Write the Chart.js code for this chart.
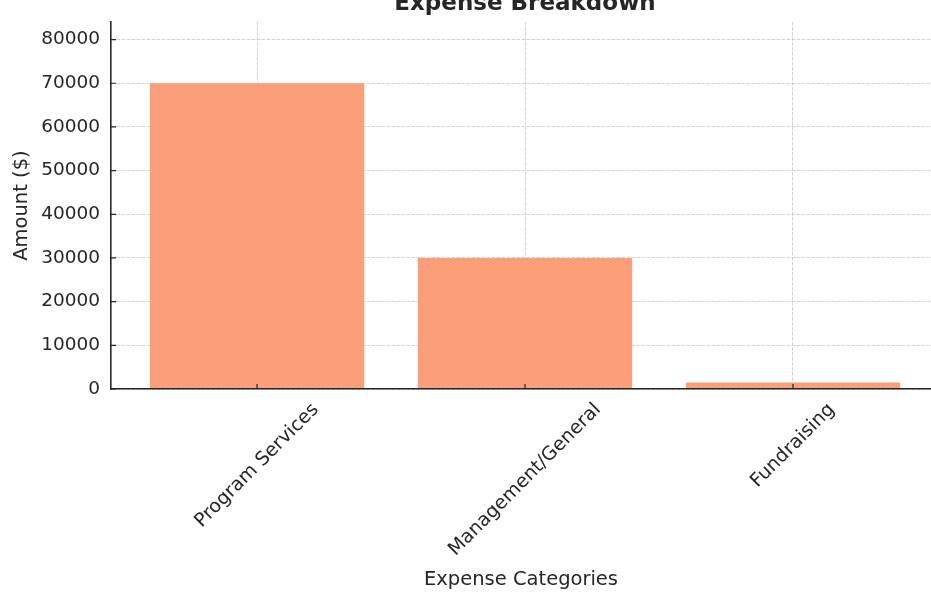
<!DOCTYPE html>
<html>
<head>
<meta charset="utf-8">
<title>Expense Breakdown</title>
<script src="https://cdn.jsdelivr.net/npm/chart.js@4.4.1/dist/chart.umd.min.js"></script>
<style>
  html, body { margin: 0; padding: 0; background: #fff; }
  #wrap { width: 931px; height: 592px; position: relative; }
</style>
</head>
<body>
<div id="wrap"><canvas id="chart-expenses"></canvas></div>
<script>
/* Expense Breakdown — barras verticales */

const chartTitle  = 'Expense Breakdown';
const xTitle      = 'Expense Categories';
const yTitle      = 'Amount ($)';
const categories  = ['Program Services', 'Management/General', 'Fundraising'];
const amounts     = [70000, 30000, 1500];
const yTicks      = [0, 10000, 20000, 30000, 40000, 50000, 60000, 70000, 80000];

const INK  = '#262626';
const GRID = '#cccccc';

// ── Etiquetas rotadas, título y marcas hacia dentro ──────────────
const extrasPlugin = {
  id: 'extras',
  afterDraw(chart) {
    const { ctx, chartArea: area, scales: { x, y } } = chart;
    ctx.save();
    ctx.fillStyle = INK;

    // etiquetas de categoría, centradas en su marca (45°)
    const size = 19;
    ctx.font = `${size}px 'DejaVu Sans', sans-serif`;
    ctx.textAlign = 'center';
    ctx.textBaseline = 'middle';
    categories.forEach((label, i) => {
      const w = ctx.measureText(label).width;
      const half = (w + size * 1.16) / (2 * Math.SQRT2);
      ctx.save();
      ctx.translate(x.getPixelForValue(i), area.bottom + 10 + half);
      ctx.rotate(-Math.PI / 4);
      ctx.fillText(label, 0, 0);
      ctx.restore();
    });

    // título (recortado arriba como en el original)
    ctx.font = `bold 23px 'DejaVu Sans', sans-serif`;
    ctx.textBaseline = 'alphabetic';
    ctx.fillText(chartTitle, x.getPixelForValue(1), 10);

    // marcas hacia dentro
    ctx.strokeStyle = INK;
    ctx.lineWidth = 1.2;
    ctx.beginPath();
    yTicks.forEach(v => {
      const py = y.getPixelForValue(v);
      ctx.moveTo(area.left, py);
      ctx.lineTo(area.left + 5, py);
    });
    categories.forEach((_, i) => {
      const px = x.getPixelForValue(i);
      ctx.moveTo(px, area.bottom);
      ctx.lineTo(px, area.bottom - 5);
    });
    ctx.stroke();
    ctx.restore();
  },
};

function initChart() {
  Chart.defaults.font.family = "'DejaVu Sans', sans-serif";
  Chart.defaults.color = INK;

  const ctx = document.getElementById('chart-expenses').getContext('2d');
  new Chart(ctx, {
    type: 'bar',
    data: {
      datasets: [{
        data: categories.map((c, i) => ({ x: i, y: amounts[i] })),
        backgroundColor: '#fb9f7a',
        borderWidth: 0,
        categoryPercentage: 1,
        barPercentage: 0.8,
      }],
    },
    options: {
      responsive: true,
      maintainAspectRatio: false,
      animation: false,
      layout: { padding: { top: 19, left: 0, right: 0, bottom: 0 } },
      plugins: {
        legend:  { display: false },
        tooltip: { enabled: false },
        title:   { display: false },
      },
      scales: {
        x: {
          type: 'linear',
          offset: false,
          min: -0.545,
          max: 2.515,
          afterBuildTicks: s => { s.ticks = categories.map((_, i) => ({ value: i })); },
          afterFit: s => { s.height = 203; },
          ticks:  { display: false },
          grid:   { color: GRID, lineWidth: 0.9, drawTicks: false, offset: false },
          border: { display: true, color: INK, width: 1.6, dash: [3.5, 1.5], z: 1 },
          title:  {
            display: true,
            text: xTitle,
            color: INK,
            font: { size: 19.5 },
            padding: { top: 0, bottom: 0 },
          },
        },
        y: {
          min: 0,
          max: 84000,
          afterBuildTicks: s => { s.ticks = yTicks.map(v => ({ value: v })); },
          afterFit: s => { s.width = 111; },
          ticks:  {
            color: INK,
            font: { size: 18.5 },
            padding: 11,
            callback: v => String(v),
          },
          grid:   { color: GRID, lineWidth: 0.9, drawTicks: false },
          border: { display: true, color: INK, width: 1.6, dash: [3.5, 1.5], z: 1 },
          title:  {
            display: true,
            text: yTitle,
            color: INK,
            font: { size: 19.5 },
            padding: { top: 10, bottom: 0 },
          },
        },
      },
    },
    plugins: [extrasPlugin],
  });
}

initChart();
</script>
</body>
</html>
